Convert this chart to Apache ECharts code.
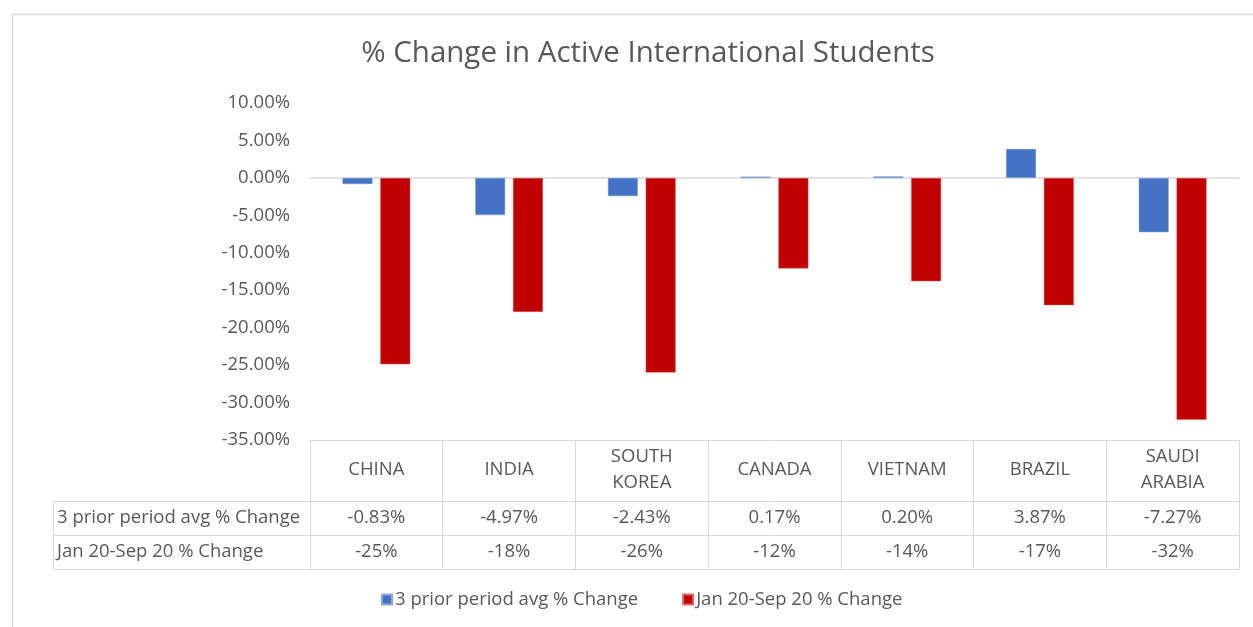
<!DOCTYPE html>
<html>
<head>
<meta charset="utf-8">
<script src="https://cdn.jsdelivr.net/npm/echarts@6/dist/echarts.min.js"></script>
<style>
html,body{margin:0;padding:0;background:#fff;}
#chart{width:1253px;height:627px;}
</style>
</head>
<body>
<div id="chart"></div>
<script>
const titleText = '% Change in Active International Students';
const categories = ['CHINA', 'INDIA', 'SOUTH KOREA', 'CANADA', 'VIETNAM', 'BRAZIL', 'SAUDI ARABIA'];
const seriesNames = ['3 prior period avg % Change', 'Jan 20-Sep 20 % Change'];
const priorAvg = [-0.83, -4.97, -2.43, 0.17, 0.20, 3.87, -7.27];
const janSep = [-24.9, -17.9, -26.0, -12.1, -13.8, -17.0, -32.3];
const yMin = -35, yMax = 10, yStep = 5;

const FONT = '"Open Sans"';
const FS = 18.5;
const TXT = '#595959';
const BORDER = '#d9d9d9';
const colors = ['#4472C4', '#C00000'];

const chart = echarts.init(document.getElementById('chart'), null, {renderer: 'canvas'});

const gridLeft = 310, gridRight = 1253 - 1239, gridTop = 103, gridBottom = 627 - 440;
const headerH = 61, rowH = 34;

function tableAxis(offset, tickLen, labelFn, labelMargin) {
  return {
    type: 'category',
    data: categories,
    position: 'bottom',
    offset: offset,
    gridIndex: 0,
    axisLine: {show: true, onZero: false, lineStyle: {color: BORDER, width: 1}},
    axisTick: {show: tickLen > 0, length: tickLen, inside: false, lineStyle: {color: BORDER, width: 1}},
    axisLabel: {
      show: !!labelFn, interval: 0, margin: labelMargin || 0,
      verticalAlign: 'middle', color: TXT, fontFamily: FONT, fontSize: FS, lineHeight: 26,
      formatter: labelFn || (() => '')
    },
    splitLine: {show: false}
  };
}

const option = {
  backgroundColor: '#fff',
  animation: false,
  color: colors,
  title: {
    text: titleText,
    left: 643, top: 34, textAlign: 'center',
    textStyle: {color: TXT, fontFamily: FONT, fontSize: 29.5, fontWeight: 'normal'}
  },
  legend: {
    data: seriesNames,
    left: 376, top: 585,
    icon: 'rect', itemWidth: 10, itemHeight: 10, itemGap: 44,
    textStyle: {color: TXT, fontFamily: FONT, fontSize: FS, padding: [0, 0, 0, -2]}
  },
  grid: {left: gridLeft, right: gridRight, top: gridTop, bottom: gridBottom, containLabel: false},
  xAxis: [
    {
      type: 'category', data: categories, gridIndex: 0,
      axisLine: {show: true, onZero: true, lineStyle: {color: BORDER, width: 1.5}},
      axisTick: {show: false}, axisLabel: {show: false}, splitLine: {show: false}
    },
    tableAxis(0, headerH, (v) => v.replace(' ', '\n'), headerH / 2 - 1),
    tableAxis(headerH, rowH, (v, i) => priorAvg[i].toFixed(2) + '%', rowH / 2),
    tableAxis(headerH + rowH, rowH, (v, i) => Math.round(janSep[i]) + '%', rowH / 2),
    tableAxis(headerH + 2 * rowH, 0, null, 0)
  ],
  yAxis: {
    type: 'value', min: yMin, max: yMax, interval: yStep,
    axisLine: {show: false}, axisTick: {show: false}, splitLine: {show: false},
    axisLabel: {color: TXT, fontFamily: FONT, fontSize: FS, margin: 20,
      formatter: (v) => v.toFixed(2) + '%'}
  },
  series: [
    {name: seriesNames[0], type: 'bar', data: priorAvg, barWidth: 30, barGap: '26%',
      itemStyle: {color: colors[0], borderColor: '#8eaadb', borderWidth: 0.5}},
    {name: seriesNames[1], type: 'bar', data: janSep, barWidth: 30,
      itemStyle: {color: colors[1], borderColor: '#e06666', borderWidth: 0.5}}
  ],
  graphic: []
};

chart.setOption(option);

// Outer chart frame and row-header cells of the data table
const tableTop = 627 - gridBottom;
const rowLeft = 53;
const g = [
  {type: 'rect', shape: {x: 12.5, y: 14.5, width: 1300, height: 700}, style: {fill: 'none', stroke: BORDER, lineWidth: 1.5}, silent: true, z: -1}
];
seriesNames.forEach((name, i) => {
  const y = tableTop + headerH + i * rowH;
  g.push({type: 'rect', shape: {x: rowLeft + 0.5, y: y + 0.5, width: gridLeft - rowLeft, height: rowH},
    style: {fill: 'none', stroke: BORDER, lineWidth: 1}, silent: true});
  g.push({type: 'text', x: rowLeft + 4, y: y + rowH / 2,
    style: {text: name, fill: TXT, font: FS + 'px ' + FONT, textVerticalAlign: 'middle', verticalAlign: 'middle'}, silent: true});
});
chart.setOption({graphic: g});
</script>
</body>
</html>
